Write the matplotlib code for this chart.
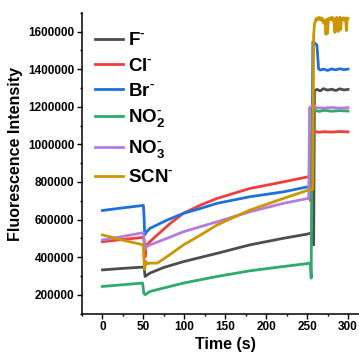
import matplotlib
matplotlib.use("Agg")
import matplotlib.pyplot as plt
from matplotlib.ticker import MultipleLocator

plt.rcParams["font.family"] = ["Liberation Sans", "DejaVu Sans"]
plt.rcParams["font.weight"] = "bold"
plt.rcParams["mathtext.fontset"] = "custom"
plt.rcParams["mathtext.rm"] = "Liberation Sans:bold"
plt.rcParams["mathtext.bf"] = "Liberation Sans:bold"

# ---- kinetic traces (time in s, intensity in counts) ----
t_f = [0, 25, 50, 51, 52, 58, 75, 99, 140, 180, 221, 251, 256, 258, 259,
       262, 266, 270, 275, 280, 285, 290, 295, 300]
y_f = [332000, 340000, 347000, 345000, 297000, 315000, 345000, 376000, 420000, 465000,
       500000, 523000, 530000, 465000, 1285000,
       1292000, 1284000, 1296000, 1288000, 1293000, 1286000, 1295000, 1289000, 1292000]

t_cl = [0, 25, 50, 51, 52, 53.5, 58, 67, 83, 99, 120, 140, 180, 221, 251, 253, 254,
        255, 260, 265, 270, 280, 290, 300]
y_cl = [482000, 494000, 505000, 490000, 400000, 462000, 482000, 518000, 580000, 633000,
        677000, 712000, 765000, 800000, 827000, 830000, 700000,
        1062000, 1068000, 1064000, 1067000, 1065000, 1068000, 1066000]

t_br = [0, 25, 50, 51, 51.5, 54, 58, 79, 99, 120, 140, 180, 221, 251, 256, 257, 259,
        262, 264, 266, 270, 275, 280, 285, 290, 295, 300]
y_br = [648000, 662000, 675000, 600000, 518000, 535000, 553000, 597000, 633000, 659000,
        686000, 721000, 747000, 774000, 780000, 1545000, 1540000,
        1528000, 1402000, 1395000, 1400000, 1393000, 1401000, 1396000, 1402000, 1397000, 1400000]

t_no2 = [0, 25, 49, 50.5, 52, 58, 99, 140, 180, 221, 251, 254, 255, 256,
         260, 265, 270, 280, 290, 300]
y_no2 = [244000, 253000, 262000, 209000, 200000, 217000, 262000, 297000, 327000, 350000,
         366000, 368000, 288000, 1172000,
         1180000, 1175000, 1181000, 1176000, 1179000, 1177000]

t_no3 = [0, 25, 50, 51, 52, 53, 58, 79, 99, 120, 140, 180, 221, 251, 252, 253, 255,
         258, 260, 270, 280, 290, 300]
y_no3 = [491000, 510000, 530000, 465000, 440000, 455000, 465000, 500000, 535000, 562000,
         588000, 641000, 686000, 712000, 718000, 1195000, 1200000,
         1210000, 1195000, 1193000, 1196000, 1192000, 1195000]

t_scn = [0, 25, 50, 50.5, 51.5, 53, 55, 58, 67, 79, 99, 120, 140, 180, 221, 251, 257, 258,
         259, 260, 261, 262, 263, 264, 265, 266, 267, 268, 269, 270, 271, 272, 273, 274,
         275, 276, 277, 278, 279, 280, 281, 282, 283, 284, 285, 286, 287, 288, 289, 290,
         291, 292, 293, 294, 295, 296, 297, 298, 299, 300]
y_scn = [518000, 490000, 465000, 400000, 335000, 376000, 365000, 368000, 368000, 403000,
         465000, 518000, 571000, 650000, 712000, 756000, 760000, 1580000,
         1640000, 1655000, 1668000, 1660000, 1672000, 1665000, 1675000, 1668000, 1660000,
         1672000, 1665000, 1645000, 1660000, 1650000, 1585000, 1665000,
         1590000, 1668000, 1662000, 1672000, 1665000, 1675000, 1660000, 1672000, 1650000,
         1595000, 1660000, 1675000, 1668000, 1600000, 1670000, 1676000,
         1610000, 1670000, 1665000, 1673000, 1660000, 1668000, 1672000, 1605000, 1665000, 1670000]

labels = [r"$\mathbf{F}^{\text{-}}$", r"$\mathbf{Cl}^{\text{-}}$", r"$\mathbf{Br}^{\text{-}}$",
          r"$\mathbf{NO}_{\mathbf{2}}^{\text{-}}$", r"$\mathbf{NO}_{\mathbf{3}}^{\text{-}}$",
          r"$\mathbf{SCN}^{\text{-}}$"]
colors = ["#4d4d4d", "#ee3e3e", "#1f6fdc", "#2eaa6a", "#b57be0", "#cc9600"]
series = [(t_f, y_f), (t_cl, y_cl), (t_br, y_br), (t_no2, y_no2), (t_no3, y_no3), (t_scn, y_scn)]

fig = plt.figure(figsize=(3.59, 3.55), dpi=100)
ax = fig.add_axes([82 / 359, 41.5 / 355, 286.5 / 359, 300.8 / 355])
for (t, y), lab, c in zip(series, labels, colors):
    ax.plot(t, y, color=c, lw=2.0, label=lab)

ax.set_xlim(-25, 325)
ax.set_ylim(100000, 1700000)
ax.xaxis.set_major_locator(MultipleLocator(50))
ax.xaxis.set_minor_locator(MultipleLocator(25))
ax.yaxis.set_major_locator(MultipleLocator(200000))
ax.yaxis.set_minor_locator(MultipleLocator(100000))
ax.ticklabel_format(axis="y", style="plain", useOffset=False)
ax.tick_params(which="major", direction="out", length=3.4, width=1.0, labelsize=8.5, pad=2)
ax.tick_params(which="minor", direction="out", length=1.6, width=1.0)
for s in ["top", "right"]:
    ax.spines[s].set_visible(False)
for s in ["left", "bottom"]:
    ax.spines[s].set_linewidth(1.1)
for lab in ax.get_xticklabels() + ax.get_yticklabels():
    lab.set_fontweight("bold")

ax.set_xlabel("Time (s)", fontsize=11.5, fontweight="bold", labelpad=3)
ax.set_ylabel("Fluorescence Intensity", fontsize=11.5, fontweight="bold")
ax.yaxis.set_label_coords(-0.206, 0.529)

ax.legend(loc="upper left", bbox_to_anchor=(0.045, 0.935), frameon=False, fontsize=13.5,
          handlelength=1.5, handletextpad=0.27, labelspacing=0.43, borderpad=0,
          borderaxespad=0)

fig.savefig("out.png", dpi=100)
